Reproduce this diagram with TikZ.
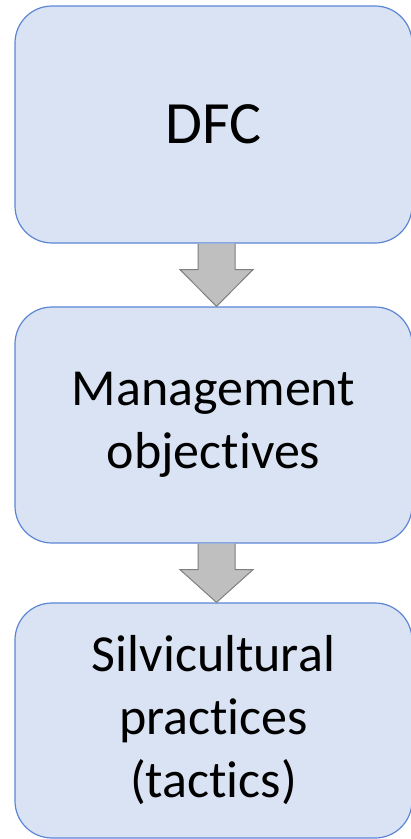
\documentclass[tikz,border=0pt]{standalone}
\usepackage{fontspec}
\setmainfont{Carlito}[Ligatures={NoCommon,NoContextual}]
\usetikzlibrary{calc}
\definecolor{boxfill}{HTML}{DAE3F3}
\definecolor{boxline}{HTML}{5B86D6}
\definecolor{arrfill}{HTML}{BFBFBF}
\definecolor{arrline}{HTML}{7F7F7F}
\begin{document}
\begin{tikzpicture}[x=1pt,y=-1pt,
  box/.style={draw=boxline, line width=1.2pt, fill=boxfill, rounded corners=37pt,
    minimum width=397pt, inner sep=0pt, align=center,
    font=\fontsize{52}{63}\selectfont},
  blockarrow/.style={draw=arrline, line width=1pt, fill=arrfill, line join=miter}]
\useasboundingbox (0,0) rectangle (411,839);
\node[box, minimum height=237pt, font=\fontsize{60}{72}\selectfont] (b1) at (213.5,124.5) {DFC};
\node[box, minimum height=236pt] (b2) at (213.5,425) {Management\\objectives};
\node[box, minimum height=235pt] (b3) at (213.5,720.5) {Silvicultural\\practices\\(tactics)};
\foreach \a/\b in {b1/b2, b2/b3}{
  \coordinate (s) at ($(\a.south)+(3,0)$);
  \coordinate (t) at ($(\b.north)+(3,0)$);
  \draw[blockarrow] ($(s)+(-18.5,0)$) -- ($(s)+(-18.5,26)$) -- ($(s)+(-36.5,26)$)
    -- (t) -- ($(s)+(36.5,26)$) -- ($(s)+(18.5,26)$) -- ($(s)+(18.5,0)$);
}
\end{tikzpicture}
\end{document}
